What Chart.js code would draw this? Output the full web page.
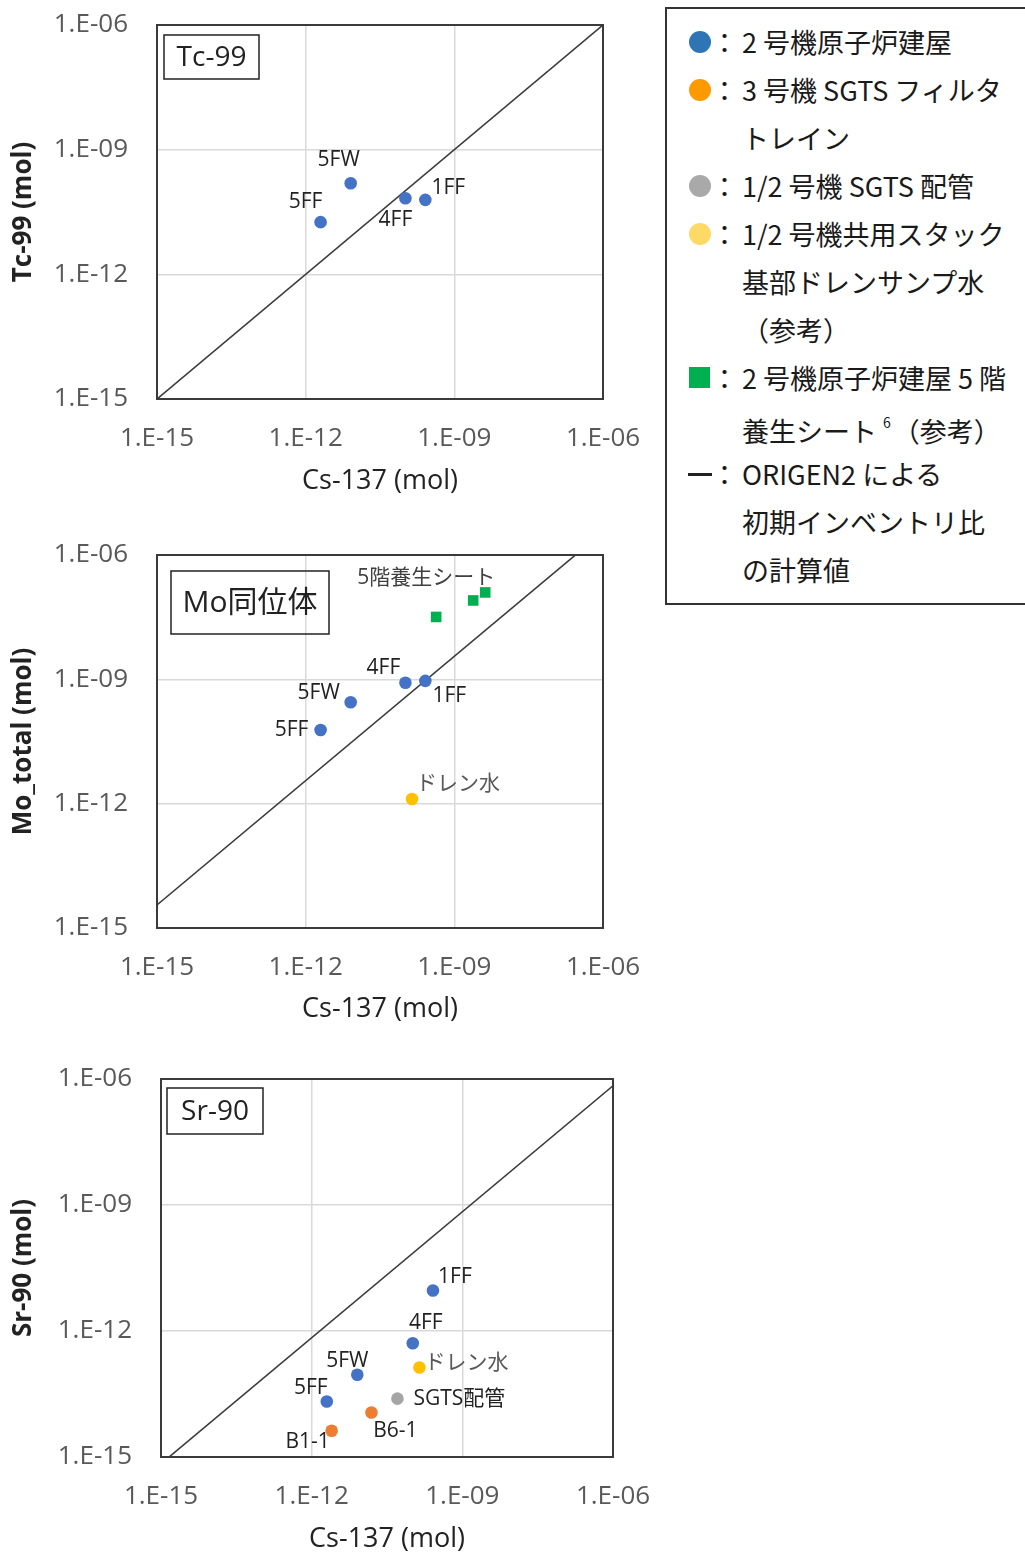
<!DOCTYPE html>
<html>
<head>
<meta charset="utf-8">
<script src="https://cdn.jsdelivr.net/npm/chart.js@4.4.1/dist/chart.umd.min.js"></script>
<style>
html, body { margin: 0; padding: 0; background: #fff; overflow: hidden; }
#page { position: relative; width: 1025px; height: 1562px; }
canvas { position: absolute; left: 0; }
#legend {
  position: absolute; left: 665px; top: 7px; width: 380px; height: 598px;
  border: 2px solid #333; box-sizing: border-box;
  font-family: 'Noto Sans CJK JP', sans-serif; font-size: 27px; color: #1a1a1a;
}
.row { position: absolute; left: 0; height: 48px; line-height: 48px; white-space: nowrap; }
.mk { position: absolute; left: 22px; top: 13px; width: 22px; height: 22px; }
.dot { border-radius: 50%; }
.cl { position: absolute; left: 44px; }
.tx { position: absolute; left: 75px; }
sup { font-size: 14px; position: relative; top: -4px; margin: 0 2px 0 6px; }
</style>
</head>
<body>
<div id="page">
  <canvas id="tc" width="660" height="510" style="top:0px"></canvas>
  <canvas id="mo" width="660" height="510" style="top:530px"></canvas>
  <canvas id="sr" width="680" height="508" style="top:1054px"></canvas>

  <div id="legend">
    <div class="row" style="top:9px"><span class="mk dot" style="background:#2e75b6"></span><span class="cl">：</span><span class="tx">2 号機原子炉建屋</span></div>
    <div class="row" style="top:57px"><span class="mk dot" style="background:#ff9900"></span><span class="cl">：</span><span class="tx">3 号機 SGTS フィルタ</span></div>
    <div class="row" style="top:105px"><span class="tx">トレイン</span></div>
    <div class="row" style="top:153px"><span class="mk dot" style="background:#a9a9a9"></span><span class="cl">：</span><span class="tx">1/2 号機 SGTS 配管</span></div>
    <div class="row" style="top:201px"><span class="mk dot" style="background:#ffd966"></span><span class="cl">：</span><span class="tx">1/2 号機共用スタック</span></div>
    <div class="row" style="top:249px"><span class="tx">基部ドレンサンプ水</span></div>
    <div class="row" style="top:297px"><span class="tx">（参考）</span></div>
    <div class="row" style="top:345px"><span class="mk" style="background:#00b050;width:21px;height:21px"></span><span class="cl">：</span><span class="tx">2 号機原子炉建屋 5 階</span></div>
    <div class="row" style="top:393px"><span class="tx">養生シート<sup>6</sup>（参考）</span></div>
    <div class="row" style="top:441px"><span class="mk" style="background:#222;height:3px;top:23px;width:24px;left:21px"></span><span class="cl">：</span><span class="tx">ORIGEN2 による</span></div>
    <div class="row" style="top:489px"><span class="tx">初期インベントリ比</span></div>
    <div class="row" style="top:537px"><span class="tx">の計算値</span></div>
  </div>
</div>

<script>
// 2号機原子炉建屋の試料 (5FF, 5FW, 4FF, 1FF)
const blueNames = ['5FF', '5FW', '4FF', '1FF'];
const blueCs = [2.0e-12, 8.1e-12, 1.03e-10, 2.6e-10];
const tcBlue = [1.8e-11, 1.55e-10, 6.8e-11, 6.2e-11];
const moBlue = [6.0e-11, 2.8e-10, 8.3e-10, 9.2e-10];
const srBlue = [2.1e-14, 9.1e-14, 5.1e-13, 9.2e-12];

// 1/2号機共用スタック基部ドレンサンプ水
const drainNames = ['ドレン水'];
const drainCs = [1.4e-10];
const moDrain = [1.3e-12];
const srDrain = [1.35e-13];

// 2号機原子炉建屋5階 養生シート
const sheetNames = ['', '', '5階養生シート'];
const sheetCs = [4.3e-10, 2.4e-9, 4.2e-9];
const moSheet = [3.2e-8, 8.0e-8, 1.25e-7];

// 3号機 SGTS フィルタトレイン
const filterNames = ['B1-1', 'B6-1'];
const filterCs = [2.5e-12, 1.55e-11];
const srFilter = [4.2e-15, 1.15e-14];

// 1/2号機 SGTS 配管
const pipeNames = ['SGTS配管'];
const pipeCs = [5.1e-11];
const srPipe = [2.45e-14];

// ORIGEN2 初期インベントリ比 (核種 / Cs-137)
const tcRatio = 1.0;
const moRatio = 3.6;
const srRatio = 0.69;

const decadeTicks = [1e-15, 1e-12, 1e-9, 1e-6];

const FONT = "'Open Sans', 'Noto Sans CJK JP', sans-serif";
const DARK = '#222222';

function pts(xs, ys) {
  return xs.map((x, i) => ({ x: x, y: ys[i] }));
}

function fmt(v) {
  const e = Math.round(Math.log10(v));
  return '1.E' + (e < 0 ? '-' : '+') + String(Math.abs(e)).padStart(2, '0');
}

function dots(xs, ys, color, names, offsets, labelColor) {
  return {
    data: pts(xs, ys),
    backgroundColor: color, borderWidth: 0, pointRadius: 6.3,
    pointLabels: names, labelOffsets: offsets, labelColor: labelColor || DARK
  };
}

function origen(k) {
  return {
    data: [{ x: 1e-15, y: 1e-15 * k }, { x: 1e-6, y: 1e-6 * k }],
    showLine: true, pointRadius: 0, borderColor: '#3c3c3c', borderWidth: 1.6
  };
}

// frame, title box and point labels
const decor = {
  id: 'decor',
  afterDatasetsDraw(chart, args, o) {
    const ctx = chart.ctx, a = chart.chartArea;
    ctx.save();
    ctx.strokeStyle = '#3a3a3a';
    ctx.lineWidth = 2;
    ctx.strokeRect(a.left, a.top, a.right - a.left, a.bottom - a.top);

    ctx.lineWidth = 1.5;
    ctx.strokeStyle = DARK;
    ctx.strokeRect(a.left + o.bx, a.top + o.by, o.bw, o.bh);
    ctx.fillStyle = DARK;
    ctx.font = o.size + 'px ' + FONT;
    ctx.textAlign = 'center';
    ctx.textBaseline = 'middle';
    ctx.fillText(o.text, a.left + o.bx + o.bw / 2, a.top + o.by + o.bh / 2 + 1);

    ctx.font = '21px ' + FONT;
    chart.data.datasets.forEach((ds, i) => {
      if (!ds.pointLabels) return;
      chart.getDatasetMeta(i).data.forEach((p, j) => {
        const t = ds.pointLabels[j];
        if (!t) return;
        const off = ds.labelOffsets[j];
        ctx.fillStyle = ds.labelColor;
        ctx.fillText(t, p.x + off[0], p.y + off[1]);
      });
    });
    ctx.restore();
  }
};

function logAxis(isY, title, size, titlePad) {
  return {
    type: 'logarithmic', min: 1e-15, max: 1e-6,
    afterBuildTicks: s => { s.ticks = decadeTicks.map(v => ({ value: v })); },
    afterFit: s => {
      if (isY) s.width = size; else s.height = size;
      // the plot box is placed by the layout padding, not by the edge labels
      s.paddingTop = s.paddingBottom = s.paddingLeft = s.paddingRight = 0;
    },
    grid: { color: '#d9d9d9', lineWidth: 1.5, drawTicks: false },
    border: { display: false },
    ticks: {
      padding: isY ? 29 : 24, color: '#595959', autoSkip: false, maxRotation: 0,
      font: { family: FONT, size: 26 }, callback: v => fmt(v)
    },
    title: {
      display: true, text: title, color: DARK,
      font: { family: FONT, size: isY ? 26 : 27, weight: isY ? 'bold' : 'normal' },
      padding: isY ? { top: 8, bottom: 0 } : { top: 0, bottom: titlePad }
    }
  };
}

function makeChart(id, datasets, yTitle, box, yWidth, xHeight, padRight, titlePad) {
  return new Chart(document.getElementById(id), {
    type: 'scatter',
    data: { datasets: datasets },
    options: {
      responsive: false, animation: false,
      layout: { padding: { top: 25, right: padRight, bottom: 0, left: 0 } },
      plugins: { legend: { display: false }, tooltip: { enabled: false }, decor: box },
      scales: {
        x: logAxis(false, 'Cs-137 (mol)', xHeight, titlePad),
        y: logAxis(true, yTitle, yWidth, 0)
      }
    },
    plugins: [decor]
  });
}

makeChart('tc', [
  dots(blueCs, tcBlue, '#4472c4', blueNames, [[-15, -20], [-12, -23], [-10, 22], [23, -12]]),
  origen(tcRatio)
], 'Tc-99 (mol)', { text: 'Tc-99', size: 28, bx: 7, by: 10, bw: 95, bh: 44 }, 157, 111, 57, 12);

makeChart('mo', [
  dots(blueCs, moBlue, '#4472c4', blueNames, [[-29, 0], [-32, -9], [-22, -15], [24, 15]]),
  dots(drainCs, moDrain, '#ffc000', drainNames, [[46, -15]], '#595959'),
  Object.assign(dots(sheetCs, moSheet, '#00b050', sheetNames, [[0, 0], [0, 0], [-59, -14]], '#404040'),
    { pointStyle: 'rect', pointRadius: 7.5 }),
  origen(moRatio)
], 'Mo_total (mol)', { text: 'Mo同位体', size: 30, bx: 14, by: 16, bw: 158, bh: 63 }, 157, 112, 57, 14);

makeChart('sr', [
  dots(blueCs, srBlue, '#4472c4', blueNames, [[-16, -13], [-10, -14], [13, -20], [22, -14]]),
  dots(drainCs, srDrain, '#ffc000', drainNames, [[47, -5]], '#595959'),
  dots(pipeCs, srPipe, '#a5a5a5', pipeNames, [[62, 0]]),
  dots(filterCs, srFilter, '#ed7d31', filterNames, [[-24, 11], [24, 19]]),
  origen(srRatio)
], 'Sr-90 (mol)', { text: 'Sr-90', size: 28, bx: 6, by: 9, bw: 96, bh: 46 }, 161, 105, 67, 6);
</script>
</body>
</html>
